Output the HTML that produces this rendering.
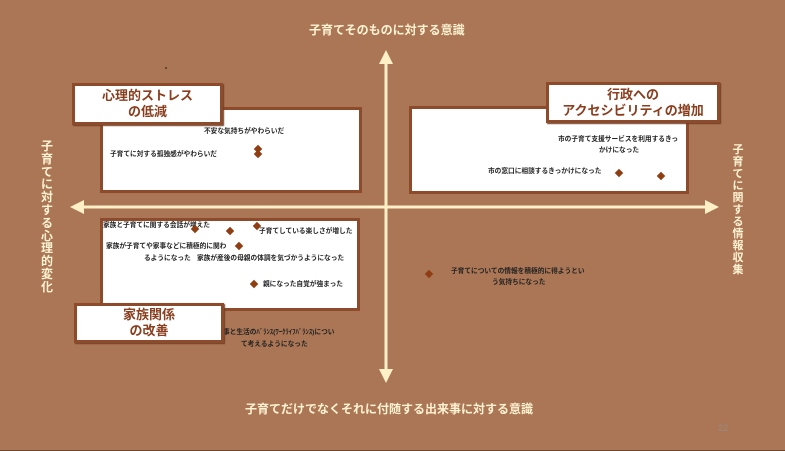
<!DOCTYPE html>
<html><head><meta charset="utf-8"><style>
html,body{margin:0;padding:0}
body{width:785px;height:451px;background:#AA7655;position:relative;overflow:hidden;font-family:"Liberation Sans","Noto Sans CJK JP",sans-serif;}
.a{position:absolute}
.box{position:absolute;background:#fff;border:3px solid #8E4B2C;box-sizing:border-box}
.lbl{position:absolute;background:#fff;border:3px solid #8E4B2C;box-sizing:border-box;color:#8A3E1E;font-weight:bold;font-size:13px;line-height:16px;text-align:center;display:flex;align-items:center;justify-content:center;box-shadow:1px 1px 1px #6d4028}
.t{position:absolute;font-size:6.7px;color:#222;white-space:nowrap;font-weight:bold;line-height:11px}
.ax{position:absolute;color:#FFF3D2;font-weight:bold;font-size:12px;white-space:nowrap}
.d{position:absolute;width:6px;height:6px;background:#8E3E12;transform:rotate(45deg)}
</style></head><body>
<div class="ax" style="left:309px;top:21px">子育てそのものに対する意識</div>
<div class="ax" style="left:245px;top:400px">子育てだけでなくそれに付随する出来事に対する意識</div>
<div class="ax" style="left:40px;top:140px;width:14px;line-height:12.8px;white-space:normal;text-align:center">子育てに対する心理的変化</div>
<div class="ax" style="left:732px;top:144px;width:12px;font-size:11px;line-height:12px;white-space:normal;text-align:center">子育てに関する情報収集</div>

<svg class="a" style="left:0;top:0" width="785" height="451">
<line x1="386" y1="62" x2="386" y2="370" stroke="#FFF0C8" stroke-width="3"/>
<polygon points="386,50 379,64 393,64" fill="#FFF0C8"/>
<polygon points="386,383 379,369 393,369" fill="#FFF0C8"/>
<line x1="82" y1="207" x2="706" y2="207" stroke="#FFF0C8" stroke-width="3"/>
<polygon points="70,207 84,200 84,214" fill="#FFF0C8"/>
<polygon points="719,207 705,200 705,214" fill="#FFF0C8"/>
<line x1="0" y1="450.5" x2="785" y2="450.5" stroke="#6B4630" stroke-width="1"/>
<circle cx="166" cy="68" r="0.8" fill="#111"/>
</svg>

<div class="box" style="left:100px;top:107px;width:262px;height:86px"></div>
<div class="box" style="left:100px;top:218px;width:260px;height:93px"></div>
<div class="box" style="left:409px;top:106px;width:280px;height:88px"></div>

<div class="t" style="left:204px;top:126px">不安な気持ちがやわらいだ</div>
<div class="t" style="left:110px;top:149px">子育てに対する孤独感がやわらいだ</div>
<div class="d" style="left:255px;top:146px"></div>
<div class="d" style="left:255px;top:151px"></div>

<div class="t" style="left:103px;top:220px">家族と子育てに関する会話が増えた</div>
<div class="t" style="left:259px;top:226px">子育てしている楽しさが増した</div>
<div class="t" style="left:106px;top:241px">家族が子育てや家事などに積極的に関わ</div>
<div class="t" style="left:144px;top:253px">るようになった</div>
<div class="t" style="left:197px;top:253px">家族が産後の母親の体調を気づかうようになった</div>
<div class="t" style="left:263px;top:279px">親になった自覚が強まった</div>
<div class="d" style="left:192px;top:226px"></div>
<div class="d" style="left:227px;top:228px"></div>
<div class="d" style="left:254px;top:223px"></div>
<div class="d" style="left:236px;top:243px"></div>
<div class="d" style="left:251px;top:281px"></div>
<div class="t" style="left:223px;top:327px">事と生活のﾊﾞﾗﾝｽ(ﾜｰｸﾗｲﾌﾊﾞﾗﾝｽ)につい</div>
<div class="t" style="left:241px;top:339px">て考えるようになった</div>

<div class="t" style="left:558px;top:134px">市の子育て支援サービスを利用するきっ</div>
<div class="t" style="left:599px;top:145px">かけになった</div>
<div class="t" style="left:488px;top:166px">市の窓口に相談するきっかけになった</div>
<div class="d" style="left:616px;top:170px"></div>
<div class="d" style="left:658px;top:173px"></div>
<div class="d" style="left:426px;top:271px"></div>
<div class="t" style="left:451px;top:266px">子育てについての情報を積極的に得ようとい</div>
<div class="t" style="left:492px;top:277px">う気持ちになった</div>

<div class="lbl" style="left:72px;top:83px;width:151px;height:42px">心理的ストレス<br>の低減</div>
<div class="lbl" style="left:74px;top:303px;width:150px;height:40px">家族関係<br>の改善</div>
<div class="lbl" style="left:546px;top:82px;width:174px;height:41px">行政への<br>アクセシビリティの増加</div>
<div class="a" style="left:718px;top:423px;font-size:9px;color:#9a8a80">22</div>
</body></html>
